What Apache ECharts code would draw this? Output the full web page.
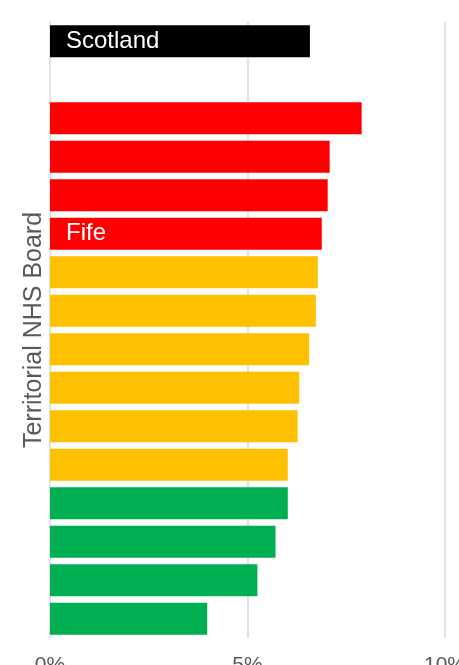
<!DOCTYPE html>
<html>
<head>
<meta charset="utf-8">
<title>Territorial NHS Board</title>
<script src="https://cdn.jsdelivr.net/npm/echarts@6/dist/echarts.min.js"></script>
<style>
  html, body { margin: 0; padding: 0; background: #ffffff; overflow: hidden; width: 459px; height: 665px; }
  #chart { width: 459px; height: 665px; }
</style>
</head>
<body>
<div id="chart"></div>
<script>
// Boards ordered top to bottom; the empty slot separates the national figure
const categories = ['Scotland', '', 'Board 1', 'Board 2', 'Board 3', 'Fife',
  'Board 5', 'Board 6', 'Board 7', 'Board 8', 'Board 9', 'Board 10',
  'Board 11', 'Board 12', 'Board 13', 'Board 14'];
const values = [6.58, null, 7.89, 7.08, 7.03, 6.88,
  6.78, 6.73, 6.56, 6.31, 6.27, 6.02,
  6.02, 5.71, 5.25, 3.98];
const ragStatus = ['national', '', 'red', 'red', 'red', 'red',
  'amber', 'amber', 'amber', 'amber', 'amber', 'amber',
  'green', 'green', 'green', 'green'];
const barLabels = ['Scotland', '', '', '', '', 'Fife',
  '', '', '', '', '', '', '', '', '', ''];
const xTicks = [0, 5, 10];

const statusColour = {
  national: '#000000',
  red: '#FF0000',
  amber: '#FFC000',
  green: '#00B050'
};

const chart = echarts.init(document.getElementById('chart'), null, { renderer: 'canvas', width: 459, height: 665 });

chart.setOption({
  animation: false,
  textStyle: { fontFamily: '"Liberation Sans", Arial, sans-serif' },
  grid: { left: 50, right: 14, top: 22, bottom: 27, containLabel: false, outerBoundsMode: 'none' },
  xAxis: {
    type: 'value',
    min: xTicks[0],
    max: xTicks[xTicks.length - 1],
    interval: xTicks[1] - xTicks[0],
    axisLine: { show: false },
    axisTick: { show: false },
    splitLine: { show: true, lineStyle: { color: '#d9d9d9', width: 1.5 } },
    axisLabel: {
      formatter: v => v + '%',
      color: '#595959',
      fontSize: 21,
      margin: 17,
      showMinLabel: true,
      showMaxLabel: true
    }
  },
  yAxis: {
    type: 'category',
    data: categories,
    inverse: true,
    axisLine: { show: false },
    axisTick: { show: false },
    axisLabel: { show: false },
    name: 'Territorial NHS Board',
    nameLocation: 'middle',
    nameGap: 3,
    nameTextStyle: { color: '#595959', fontSize: 25 }
  },
  series: [{
    type: 'bar',
    barCategoryGap: '17%',
    data: values.map((v, i) => ({
      value: v,
      itemStyle: { color: statusColour[ragStatus[i]] || 'transparent' },
      label: {
        show: barLabels[i] !== '',
        formatter: barLabels[i],
        position: 'insideLeft',
        distance: 16,
        color: '#ffffff',
        fontSize: 24
      }
    }))
  }]
});
</script>
</body>
</html>
